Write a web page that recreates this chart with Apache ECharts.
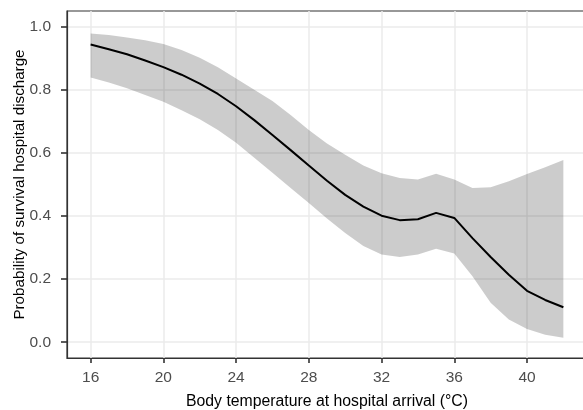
<!DOCTYPE html>
<html>
<head>
<meta charset="utf-8">
<script src="https://cdn.jsdelivr.net/npm/echarts@6/dist/echarts.min.js"></script>
<style>
html,body{margin:0;padding:0;background:#fff;}
#chart{width:583px;height:410px;}
</style>
</head>
<body>
<div id="chart"></div>
<script>
// Body temperature (°C)
const temperature = [16,17,18,19,20,21,22,23,24,25,26,27,28,29,30,31,32,33,34,35,36,37,38,39,40,41,42];
// Predicted probability of survival to hospital discharge
const fitted = [0.944,0.929,0.913,0.893,0.872,0.848,0.820,0.787,0.748,0.704,0.657,0.609,0.560,0.512,0.467,0.430,0.401,0.387,0.390,0.410,0.394,0.330,0.270,0.214,0.163,0.134,0.111];
// 95% confidence band
const upper = [0.979,0.974,0.966,0.957,0.945,0.926,0.902,0.872,0.836,0.800,0.765,0.720,0.673,0.630,0.594,0.560,0.536,0.521,0.516,0.534,0.516,0.489,0.491,0.510,0.533,0.555,0.578];
const lower = [0.839,0.823,0.805,0.784,0.762,0.735,0.707,0.673,0.632,0.585,0.537,0.489,0.441,0.392,0.346,0.305,0.278,0.270,0.278,0.296,0.281,0.209,0.125,0.072,0.042,0.024,0.014];
// Axis ticks
const xTicks = [16,20,24,28,32,36,40];
const yTicks = [0,0.2,0.4,0.6,0.8,1.0];

const chart = echarts.init(document.getElementById('chart'), null, {renderer:'canvas'});
const fontFamily = '"Liberation Sans", Arial, sans-serif';

chart.setOption({
  backgroundColor: '#ffffff',
  animation: false,
  grid: {
    left: 67, top: 11, right: -4, bottom: 52,
    containLabel: false, outerBoundsMode: 'none',
    show: true, borderColor: '#333333', borderWidth: 1.2, backgroundColor: '#ffffff'
  },
  xAxis: {
    type: 'value', min: 14.7, max: 43.3,
    name: 'Body temperature at hospital arrival (°C)',
    nameLocation: 'middle', nameGap: 36,
    nameTextStyle: {color: '#000', fontSize: 15.8, fontFamily},
    axisLine: {show: true, onZero: false, lineStyle: {color: '#333333', width: 1.2}},
    axisTick: {show: true, length: 5, customValues: xTicks, lineStyle: {color: '#333333', width: 1.6}},
    axisLabel: {customValues: xTicks, color: '#4d4d4d', fontSize: 15.5, fontFamily, margin: 12},
    splitLine: {show: true, lineStyle: {color: '#ebebeb', width: 1.5}}
  },
  yAxis: {
    type: 'value', min: -0.05, max: 1.05,
    name: 'Probability of survival hospital discharge',
    nameLocation: 'middle', nameGap: 40, nameMoveOverlap: false,
    nameTextStyle: {color: '#000', fontSize: 15.2, fontFamily},
    axisLine: {show: true, onZero: false, lineStyle: {color: '#333333', width: 1.2}},
    axisTick: {show: true, length: 6, customValues: yTicks, lineStyle: {color: '#333333', width: 1.6}},
    axisLabel: {customValues: yTicks, color: '#4d4d4d', fontSize: 15.5, fontFamily, margin: 16,
      formatter: v => v.toFixed(1)},
    splitLine: {show: true, lineStyle: {color: '#ebebeb', width: 1.5}}
  },
  series: [
    {
      type: 'custom',
      coordinateSystem: 'cartesian2d',
      data: [[temperature[0], fitted[0]]],
      silent: true,
      z: 2,
      renderItem: function (params, api) {
        const pts = [];
        for (let i = 0; i < temperature.length; i++) pts.push(api.coord([temperature[i], upper[i]]));
        for (let i = temperature.length - 1; i >= 0; i--) pts.push(api.coord([temperature[i], lower[i]]));
        return {type: 'polygon', shape: {points: pts}, style: {fill: 'rgba(0,0,0,0.2)', stroke: null}};
      }
    },
    {
      type: 'line',
      data: temperature.map((t, i) => [t, fitted[i]]),
      showSymbol: false,
      smooth: false,
      z: 3,
      lineStyle: {color: '#000000', width: 2}
    }
  ]
});
</script>
</body>
</html>
